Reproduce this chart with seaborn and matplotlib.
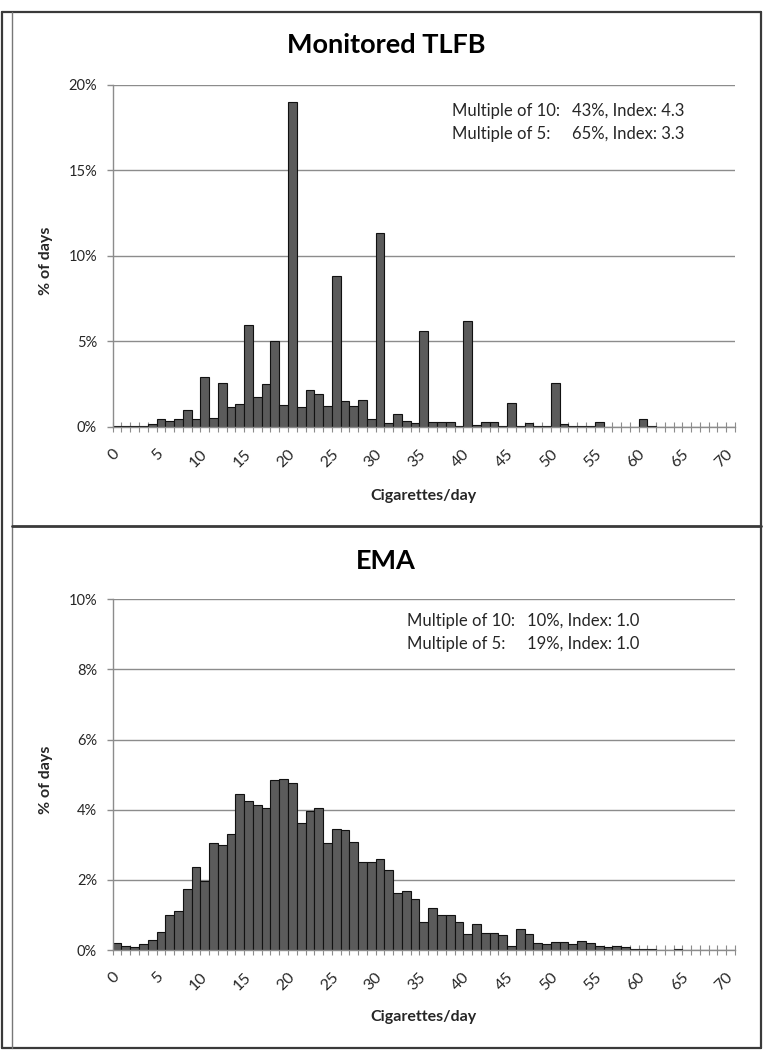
import numpy as np
import pandas as pd
import matplotlib
matplotlib.use("Agg")
import matplotlib.pyplot as plt
import matplotlib.transforms as mtransforms
from matplotlib.lines import Line2D
from matplotlib.ticker import FuncFormatter
import seaborn as sns

# ---------------- data (percent of days) ----------------
cigs = list(range(71))
tlfb_pct = [0.06, 0.02, 0.04, 0.04, 0.15, 0.43, 0.33, 0.47, 0.96, 0.47,
            2.93, 0.53, 2.54, 1.15, 1.31, 5.97, 1.72, 2.50, 5.00, 1.29,
            18.99, 1.13, 2.15, 1.91, 1.23, 8.80, 1.52, 1.23, 1.56, 0.43,
            11.36, 0.20, 0.72, 0.33, 0.20, 5.58, 0.25, 0.25, 0.25, 0.04,
            6.20, 0.10, 0.30, 0.25, 0.06, 1.39, 0.02, 0.22, 0.06, 0.06,
            2.54, 0.15, 0.06, 0.02, 0.02, 0.25, 0.0, 0.0, 0.0, 0.0,
            0.43, 0.02, 0.0, 0.0, 0.0, 0.0, 0.0, 0.0, 0.0, 0.0, 0.0]
ema_pct = [0.19, 0.11, 0.09, 0.16, 0.28, 0.51, 1.01, 1.10, 1.73, 2.38,
           1.98, 3.04, 2.98, 3.31, 4.44, 4.25, 4.13, 4.04, 4.84, 4.89,
           4.77, 3.61, 3.97, 4.06, 3.04, 3.45, 3.43, 3.07, 2.50, 2.50,
           2.59, 2.27, 1.62, 1.69, 1.45, 0.79, 1.19, 1.00, 1.00, 0.79,
           0.45, 0.75, 0.48, 0.48, 0.42, 0.11, 0.61, 0.45, 0.19, 0.16,
           0.22, 0.22, 0.17, 0.26, 0.19, 0.10, 0.08, 0.12, 0.08, 0.04,
           0.04, 0.04, 0.0, 0.0, 0.02, 0.0, 0.0, 0.0, 0.0, 0.0, 0.0]
xtick_values = list(range(0, 71, 5))
xtick_labels = [str(v) for v in xtick_values]
titles = ["Monitored TLFB", "EMA"]
ann_labels = ["Multiple of 10:", "Multiple of 5:"]
tlfb_ann = ["43%, Index: 4.3", "65%, Index: 3.3"]
ema_ann = ["10%, Index: 1.0", "19%, Index: 1.0"]

# ---------------- style ----------------
sns.set_theme(style="white")
plt.rcParams["font.family"] = ["Lato", "DejaVu Sans"]

W, H = 778, 1050
fig = plt.figure(figsize=(W / 100, H / 100), dpi=100)
fig.patch.set_facecolor("white")


def rect(x0, y0, x1, y1):
    return [x0 / W, 1 - y1 / H, (x1 - x0) / W, (y1 - y0) / H]


GRID = "#8c8c8c"
TXT = "#262626"


def panel(ax, vals, ymax, ystep, xlab_off, title, title_y, ann_vals, ann_x0, ann_x1, ann_y):
    df = pd.DataFrame({"cig": cigs, "pct": np.array(vals) / 100.0})
    sns.barplot(data=df, x="cig", y="pct", order=cigs, color="#5b5b5b",
                saturation=1, width=1.0, edgecolor="#111111", linewidth=0.8,
                ax=ax, errorbar=None)
    for p in ax.patches:
        if p.get_height() == 0:
            p.set_visible(False)
    ax.set_xlim(-0.5, 70.5)
    ax.set_ylim(0, ymax)
    ax.set_axisbelow(True)
    ax.yaxis.grid(True, color=GRID, linewidth=1.0)
    ax.xaxis.grid(False)
    for s in ["top", "right"]:
        ax.spines[s].set_visible(False)
    for s in ["left", "bottom"]:
        ax.spines[s].set_color(GRID)
        ax.spines[s].set_linewidth(1.0)
    ax.set_yticks(np.arange(0, ymax + 1e-9, ystep))
    ax.yaxis.set_major_formatter(FuncFormatter(lambda v, pos: f"{v*100:.0f}%"))
    ax.tick_params(axis="y", length=4.3, width=1.0, color=GRID, pad=7,
                   labelsize=10.5, labelcolor=TXT, left=True)
    ax.set_xticks(xtick_values)
    ax.set_xticklabels(xtick_labels, rotation=45, ha="right", va="center",
                       rotation_mode="anchor")
    off = mtransforms.ScaledTranslation(2 / 100, 0, fig.dpi_scale_trans)
    for lab in ax.get_xticklabels():
        lab.set_transform(lab.get_transform() + off)
    ax.tick_params(axis="x", which="major", length=0, pad=18,
                   labelsize=11.5, labelcolor=TXT, bottom=True)
    ax.set_xticks(np.arange(-0.5, 71, 1), minor=True)
    ax.tick_params(axis="x", which="minor", length=7, width=0.8,
                   direction="inout", color=GRID, bottom=True)
    ax.set_xlabel("Cigarettes/day", fontsize=11.5, fontweight="bold", color=TXT, va="center")
    ax.xaxis.set_label_coords(0.5, xlab_off)
    ax.set_ylabel("% of days", fontsize=11.5, fontweight="bold", color=TXT, va="center")
    ax.yaxis.set_label_coords(-0.107, 0.485)
    fig.text(386 / W, 1 - title_y / H, title, ha="center", va="center",
             fontsize=19.5, fontweight="bold", color="black")
    for i in range(2):
        yy = 1 - (ann_y + i * 22.5) / H
        fig.text(ann_x0 / W, yy, ann_labels[i], ha="left", va="center",
                 fontsize=12, color=TXT)
        fig.text(ann_x1 / W, yy, ann_vals[i], ha="left", va="center",
                 fontsize=12, color=TXT)


ax1 = fig.add_axes(rect(112.7, 85, 735, 426.7))
ax2 = fig.add_axes(rect(112.7, 599.3, 735, 950))
panel(ax1, tlfb_pct, 0.20, 0.05, -0.203, titles[0], 45, tlfb_ann, 452, 571.5, 111)
panel(ax2, ema_pct, 0.10, 0.02, -0.19, titles[1], 561, ema_ann, 406.7, 526.7, 621)

# frame lines
BC = "#3a3a3a"
def fl(xs, ys, c=BC, lw=1.6):
    fig.add_artist(Line2D([x / W for x in xs], [1 - y / H for y in ys],
                          color=c, linewidth=lw, transform=fig.transFigure))

fl([1.5, 761], [12, 12])
fl([761, 761], [12, 1048])
fl([1.5, 761], [1048, 1048])
fl([1.5, 1.5], [12, 1048])
fl([12, 12], [12, 1048], c="#777777", lw=1.0)
fl([12, 761], [526, 526], lw=2.0)

fig.savefig("out.png", dpi=100, facecolor="white")
